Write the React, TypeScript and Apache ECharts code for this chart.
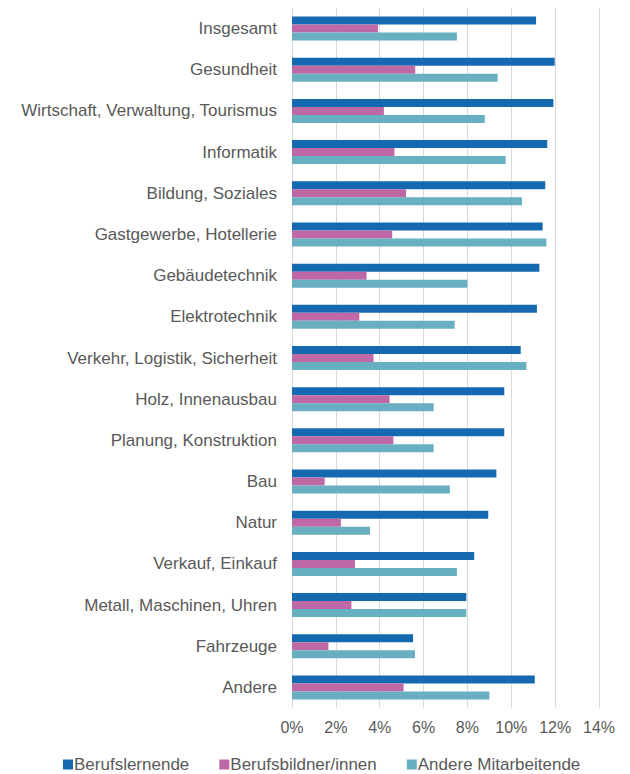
import React, { useEffect, useRef } from "react";
import * as echarts from "echarts";

const categories = [
  "Insgesamt",
  "Gesundheit",
  "Wirtschaft, Verwaltung, Tourismus",
  "Informatik",
  "Bildung, Soziales",
  "Gastgewerbe, Hotellerie",
  "Gebäudetechnik",
  "Elektrotechnik",
  "Verkehr, Logistik, Sicherheit",
  "Holz, Innenausbau",
  "Planung, Konstruktion",
  "Bau",
  "Natur",
  "Verkauf, Einkauf",
  "Metall, Maschinen, Uhren",
  "Fahrzeuge",
  "Andere",
];

const berufslernende = [11.13, 11.98, 11.92, 11.64, 11.55, 11.43, 11.28, 11.17, 10.43, 9.68, 9.68, 9.32, 8.95, 8.31, 7.95, 5.52, 11.07];
const berufsbildner = [3.92, 5.62, 4.19, 4.67, 5.2, 4.57, 3.4, 3.07, 3.72, 4.45, 4.62, 1.49, 2.23, 2.87, 2.71, 1.66, 5.09];
const andereMitarbeitende = [7.52, 9.38, 8.79, 9.74, 10.49, 11.6, 8.0, 7.42, 10.69, 6.46, 6.46, 7.2, 3.56, 7.52, 7.95, 5.61, 9.0];

const xTicks = [0, 2, 4, 6, 8, 10, 12, 14];

const seriesNames = ["Berufslernende", "Berufsbildner/innen", "Andere Mitarbeitende"];
const colors = ["#1469B0", "#BE69A5", "#68AFC2"];

export default function App() {
  const ref = useRef<HTMLDivElement>(null);
  useEffect(() => {
    const chart = echarts.init(ref.current!, null, { renderer: "svg" });
    const font = "Liberation Sans, Arial, sans-serif";
    const data = [berufslernende, berufsbildner, andereMitarbeitende];
    chart.setOption({
      animation: false,
      textStyle: { fontFamily: font },
      grid: { left: 292, right: 31, top: 8, bottom: 66, containLabel: false },
      legend: {
        top: 756,
        left: 63,
        padding: 0,
        itemWidth: 10,
        itemHeight: 10,
        itemGap: 30,
        icon: "rect",
        textStyle: { color: "#595959", fontSize: 17, fontFamily: font, padding: [0, 0, 0, -4] },
        data: seriesNames,
      },
      xAxis: {
        type: "value",
        min: xTicks[0],
        max: xTicks[xTicks.length - 1],
        interval: xTicks[1] - xTicks[0],
        axisLabel: {
          formatter: (v: number) => v + "%",
          color: "#595959",
          fontSize: 16,
          margin: 11,
          fontFamily: font,
        },
        axisLine: { show: false },
        axisTick: { show: false },
        splitLine: { lineStyle: { color: "#D9D9D9", width: 1 } },
      },
      yAxis: {
        type: "category",
        inverse: true,
        data: categories,
        axisLine: { show: false },
        axisTick: { show: false },
        axisLabel: { color: "#595959", fontSize: 17, margin: 15, fontFamily: font },
      },
      series: data.map((d, i) => ({
        name: seriesNames[i],
        type: "bar",
        data: d,
        barWidth: 8,
        barGap: "0%",
        itemStyle: { color: colors[i] },
      })),
    });
    return () => chart.dispose();
  }, []);
  return <div ref={ref} style={{ width: 630, height: 774, position: "absolute", left: 0, top: 0 }} />;
}
